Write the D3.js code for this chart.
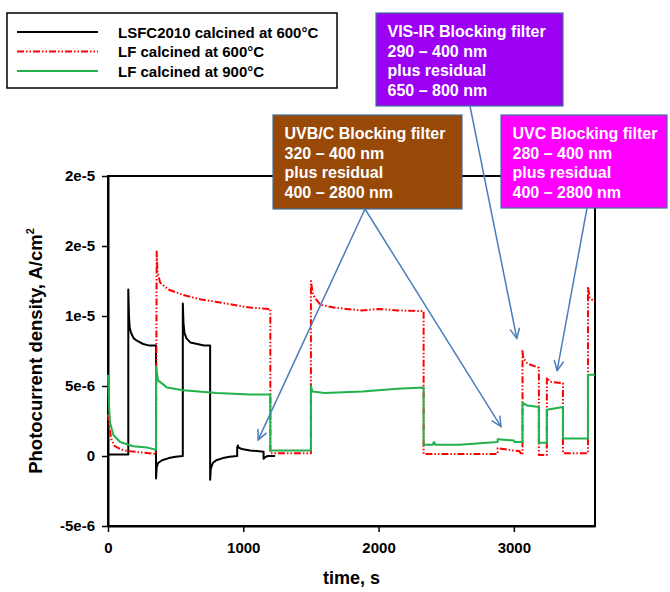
<!DOCTYPE html>
<html lang="en">
<head>
<meta charset="UTF-8">
<title>Photocurrent density vs time</title>
<script src="https://d3js.org/d3.v7.min.js"></script>
<style>
  body { margin: 0; background: #fff; }
  svg { font-family: "Liberation Sans", Arial, sans-serif; font-weight: bold; }
  .box-text { fill: #fff; font-size: 16px; }
</style>
</head>
<body>
<svg id="chart" width="670" height="592"></svg>
<script>
// values, current in units of 1e-6 A/cm2, time in s
const lsfc600 = [
  [0, 0.1], [150, 0.1], [150, 11.9], [155, 10.0], [160, 9.2], [170, 8.8], [190, 8.4], [220, 8.2],
  [260, 8.0], [300, 7.9], [355, 7.9], [355, -1.6], [360, -0.8], [370, -0.5], [400, -0.3],
  [450, -0.15], [500, -0.05], [553, 0], [553, 10.9], [558, 9.5], [565, 8.8], [580, 8.4],
  [610, 8.1], [660, 8.0], [710, 7.9], [755, 7.9], [755, -1.7], [760, -0.9], [775, -0.5],
  [800, -0.3], [850, -0.15], [900, -0.05], [955, 0], [955, 0.6], [960, 0.75], [965, 0.6],
  [990, 0.5], [1050, 0.4], [1100, 0.35], [1150, 0.3], [1150, -0.2], [1160, -0.1], [1180, 0], [1235, 0]
];
const lf600 = [
  [0, 3.0], [10, 2.0], [25, 1.2], [50, 0.7], [100, 0.45], [150, 0.35], [250, 0.25], [355, 0.15],
  [360, 14.6], [365, 13.2], [385, 12.4], [445, 11.9], [555, 11.5], [680, 11.2], [805, 11.0],
  [925, 10.8], [1050, 10.6], [1200, 10.5], [1200, 0.2], [1500, 0.2], [1500, 12.5], [1515, 11.5],
  [1570, 10.8], [1670, 10.6], [1870, 10.4], [2000, 10.5], [2140, 10.4], [2333, 10.35],
  [2333, 0.15], [2880, 0.15], [2880, 0.55], [2990, 0.4], [3040, 0.35], [3060, 0.1], [3064, 0.1],
  [3064, 7.5], [3070, 7.0], [3100, 6.6], [3185, 6.3], [3185, 0.07], [3244, 0.07], [3244, 5.6],
  [3270, 5.3], [3363, 5.2], [3363, 0.2], [3548, 0.2], [3548, 12.1], [3560, 11.3], [3600, 11.0]
];
const lf900 = [
  [0, 5.8], [8, 3.5], [15, 2.4], [40, 1.5], [90, 1.0], [185, 0.7], [290, 0.6], [355, 0.45],
  [355, 6.4], [370, 5.4], [435, 4.9], [555, 4.7], [805, 4.5], [1050, 4.4], [1200, 4.4],
  [1200, 0.4], [1500, 0.4], [1500, 5.0], [1510, 4.6], [1600, 4.5], [1880, 4.6], [2140, 4.8],
  [2333, 4.9], [2333, 0.8], [2400, 0.8], [2410, 1.0], [2420, 0.8], [2600, 0.8], [2800, 0.95],
  [2880, 1.0], [2880, 1.2], [3000, 1.1], [3005, 1.0], [3064, 1.0], [3064, 3.8], [3100, 3.6],
  [3185, 3.5], [3185, 0.95], [3244, 0.95], [3244, 3.3], [3363, 3.5], [3363, 1.25], [3548, 1.25],
  [3548, 5.8], [3600, 5.8]
];

const xTicks = [0, 1000, 2000, 3000];
const yTicks = [-5, 0, 5, 10, 15, 20];
const yTickLabels = ["-5e-6", "0", "5e-6", "1e-5", "2e-5", "2e-5"];

const seriesNames = ["LSFC2010 calcined at 600°C", "LF calcined at 600°C", "LF calcined at 900°C"];
const seriesColors = ["#000000", "#ff0000", "#22b14c"];
const seriesDash = [null, "7,2,1.5,2,1.5,2", null];

const filterTitles = ["UVB/C Blocking filter", "VIS-IR Blocking filter", "UVC Blocking filter"];
const filterLines = [
  ["320 – 400 nm", "plus residual", "400 – 2800 nm"],
  ["290 – 400 nm", "plus residual", "650 – 800 nm"],
  ["280 – 400 nm", "plus residual", "400 – 2800 nm"]
];
const filterColors = ["#984807", "#9b00f2", "#ff00ff"];
// arrow tips in data units [time, current]
const arrowTips = [
  [[1110, 1.15], [2905, 2.1]],
  [[3022, 8.4]],
  [[3320, 6.1]]
];

const svg = d3.select("#chart");
const m = { left: 108, right: 595, top: 176, bottom: 526 };

const x = d3.scaleLinear().domain([0, 3600]).range([m.left, m.right]);
const y = d3.scaleLinear().domain([-5, 20]).range([m.bottom, m.top]);

// frame
svg.append("rect")
  .attr("x", m.left).attr("y", m.top)
  .attr("width", m.right - m.left).attr("height", m.bottom - m.top)
  .attr("fill", "none").attr("stroke", "#000").attr("stroke-width", 2);

// axes
const xAxis = svg.append("g")
  .attr("transform", `translate(0,${m.bottom})`)
  .call(d3.axisBottom(x).tickValues(xTicks).tickSize(6).tickSizeOuter(0).tickPadding(10).tickFormat(d3.format("d")));
const yAxis = svg.append("g")
  .attr("transform", `translate(${m.left},0)`)
  .call(d3.axisLeft(y).tickValues(yTicks).tickSize(6).tickSizeOuter(0).tickPadding(7)
    .tickFormat((d, i) => yTickLabels[i]));
[xAxis, yAxis].forEach(a => {
  a.select(".domain").attr("stroke-width", 2);
  a.selectAll(".tick line").attr("stroke-width", 1.5);
  a.selectAll(".tick text").attr("font-size", 15).attr("font-family", null).attr("fill", "#000");
});
xAxis.attr("font-family", null);
yAxis.attr("font-family", null);

// axis titles
svg.append("text")
  .attr("x", (m.left + m.right) / 2).attr("y", 584)
  .attr("text-anchor", "middle").attr("font-size", 18)
  .text("time, s");
const yt = svg.append("text")
  .attr("transform", `translate(42,${(m.top + m.bottom) / 2}) rotate(-90)`)
  .attr("text-anchor", "middle").attr("font-size", 18.5);
yt.append("tspan").text("Photocurrent density, A/cm");
yt.append("tspan").attr("dy", -8).attr("font-size", 11).text("2");

// data lines
const line = d3.line().x(d => x(d[0])).y(d => y(d[1]));
[lsfc600, lf600, lf900].forEach((s, i) => {
  svg.append("path")
    .datum(s)
    .attr("d", line)
    .attr("fill", "none")
    .attr("stroke", seriesColors[i])
    .attr("stroke-width", 2)
    .attr("stroke-dasharray", seriesDash[i])
    .attr("stroke-linejoin", "round");
});

// legend
const lg = svg.append("g");
lg.append("rect").attr("x", 7).attr("y", 13).attr("width", 330).attr("height", 75)
  .attr("fill", "#fff").attr("stroke", "#000").attr("stroke-width", 1.5);
seriesNames.forEach((n, i) => {
  const ly = 32 + i * 19.5;
  lg.append("line").attr("x1", 17).attr("x2", 98).attr("y1", ly).attr("y2", ly)
    .attr("stroke", seriesColors[i]).attr("stroke-width", 2)
    .attr("stroke-dasharray", seriesDash[i]);
  lg.append("text").attr("x", 118).attr("y", ly + 5.5).attr("font-size", 15).text(n);
});

// filter annotation boxes
const boxes = [
  { x: 273, y: 115, w: 189, h: 94, from: [365, 209] },
  { x: 376, y: 13, w: 187, h: 93, from: [470, 106] },
  { x: 501, y: 115, w: 166, h: 93, from: [587, 208] }
];
boxes.forEach((b, i) => {
  svg.append("rect").attr("x", b.x).attr("y", b.y).attr("width", b.w).attr("height", b.h)
    .attr("fill", filterColors[i]).attr("stroke", "#41719c").attr("stroke-width", 1.2);
  const t = svg.append("text").attr("class", "box-text");
  [filterTitles[i]].concat(filterLines[i]).forEach((s, k) => {
    t.append("tspan").attr("x", b.x + 11.5).attr("y", b.y + 24 + k * 19.5).text(s);
  });
});

// arrows
const arrowColor = "#4a7ebb";
boxes.forEach((b, i) => {
  arrowTips[i].forEach(tip => {
    const x0 = b.from[0], y0 = b.from[1];
    const x1 = x(tip[0]), y1 = y(tip[1]);
    const ang = Math.atan2(y1 - y0, x1 - x0);
    const hl = 11, ha = 0.45;
    svg.append("line").attr("x1", x0).attr("y1", y0).attr("x2", x1).attr("y2", y1)
      .attr("stroke", arrowColor).attr("stroke-width", 1.5);
    svg.append("path")
      .attr("d", `M${x1 - hl * Math.cos(ang - ha)},${y1 - hl * Math.sin(ang - ha)}L${x1},${y1}L${x1 - hl * Math.cos(ang + ha)},${y1 - hl * Math.sin(ang + ha)}`)
      .attr("fill", "none").attr("stroke", arrowColor).attr("stroke-width", 1.5);
  });
});
</script>
</body>
</html>
